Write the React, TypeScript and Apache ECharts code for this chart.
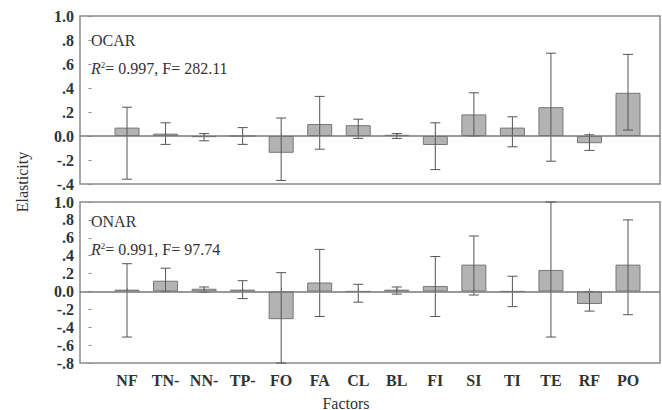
import React, { useEffect, useRef } from "react";
import * as echarts from "echarts";

const categories = ["NF", "TN‐", "NN‐", "TP‐", "FO", "FA", "CL", "BL", "FI", "SI", "TI", "TE", "RF", "PO"];

// OCAR panel
const ocarValues = [0.07, 0.02, -0.01, 0.0, -0.14, 0.1, 0.09, 0.01, -0.075, 0.18, 0.07, 0.24, -0.06, 0.36];
const ocarLow = [-0.36, -0.07, -0.04, -0.07, -0.37, -0.11, -0.02, -0.02, -0.28, 0.0, -0.09, -0.21, -0.12, 0.05];
const ocarHigh = [0.24, 0.11, 0.02, 0.07, 0.15, 0.33, 0.14, 0.02, 0.11, 0.36, 0.16, 0.69, 0.01, 0.68];

// ONAR panel
const onarValues = [0.02, 0.12, 0.03, 0.02, -0.31, 0.1, 0.0, 0.02, 0.06, 0.3, 0.0, 0.24, -0.14, 0.3];
const onarLow = [-0.51, 0.0, -0.01, -0.08, -0.8, -0.28, -0.12, -0.03, -0.28, -0.04, -0.17, -0.51, -0.22, -0.26];
const onarHigh = [0.31, 0.26, 0.05, 0.12, 0.21, 0.47, 0.08, 0.05, 0.39, 0.62, 0.17, 1.0, 0.0, 0.8];

const ocarStats = { name: "OCAR", r2: "0.997", f: "282.11" };
const onarStats = { name: "ONAR", r2: "0.991", f: "97.74" };

const FONT = "Liberation Serif, Times New Roman, serif";
const TEXT = "#333";
const FRAME = "#8a8a8a";

const positions = categories.map((_, i) => i + 1);

function fmtY(v: number): string {
  const r = Math.round(v * 10) / 10;
  if (r === 0) return "0.0";
  if (r === 1) return "1.0";
  const s = Math.abs(r).toFixed(1).replace(/^0/, "");
  return (r < 0 ? "-" : "") + s;
}

function errRender(params: any, api: any) {
  const x = api.value(0);
  const lo = api.coord([x, api.value(1)]);
  const hi = api.coord([x, api.value(2)]);
  const cap = 5;
  const style = { stroke: "#555", lineWidth: 1 };
  return {
    type: "group",
    children: [
      { type: "line", shape: { x1: lo[0], y1: lo[1], x2: hi[0], y2: hi[1] }, style },
      { type: "line", shape: { x1: hi[0] - cap, y1: hi[1], x2: hi[0] + cap, y2: hi[1] }, style },
      { type: "line", shape: { x1: lo[0] - cap, y1: lo[1], x2: lo[0] + cap, y2: lo[1] }, style },
    ],
  };
}

export default function App() {
  const ref = useRef<HTMLDivElement>(null);
  useEffect(() => {
    if (!ref.current) return;
    const chart = echarts.init(ref.current, null, { renderer: "svg" });
    const xAxisBase = (gridIndex: number, showLabels: boolean) => ({
      type: "value",
      gridIndex,
      min: -0.22,
      max: 14.83,
      axisLine: { show: false },
      splitLine: { show: false },
      axisTick: {
        show: true,
        inside: true,
        length: 3,
        customValues: positions,
        lineStyle: { color: FRAME },
      },
      axisLabel: {
        show: showLabels,
        customValues: positions,
        formatter: (v: number) => categories[Math.round(v) - 1] ?? "",
        fontFamily: FONT,
        fontSize: 16,
        fontWeight: "bold",
        color: TEXT,
        margin: 9,
      },
    });
    const yAxisBase = (gridIndex: number, min: number) => ({
      type: "value",
      gridIndex,
      min,
      max: 1.0,
      interval: 0.2,
      axisLine: { show: false },
      splitLine: { show: false },
      axisTick: { show: true, inside: true, length: 3, lineStyle: { color: FRAME } },
      axisLabel: {
        formatter: fmtY,
        fontFamily: FONT,
        fontSize: 16,
        fontWeight: "bold",
        color: TEXT,
        margin: 6,
      },
    });
    const zeroLine = {
      silent: true,
      symbol: "none",
      label: { show: false },
      lineStyle: { color: "#777", type: "solid", width: 1.5 },
      data: [{ yAxis: 0 }],
    };
    const barSeries = (idx: number, values: number[]) => ({
      type: "bar",
      xAxisIndex: idx,
      yAxisIndex: idx,
      barWidth: 25,
      data: values.map((v, i) => [positions[i], v]),
      itemStyle: { color: "#b3b3b3", borderColor: "#777", borderWidth: 1 },
      markLine: zeroLine,
      z: 2,
    });
    const errSeries = (idx: number, lo: number[], hi: number[]) => ({
      type: "custom",
      xAxisIndex: idx,
      yAxisIndex: idx,
      renderItem: errRender,
      encode: { x: 0, y: [1, 2] },
      data: lo.map((l, i) => [positions[i], l, hi[i]]),
      z: 3,
    });
    const statText = (y: number, s: { name: string; r2: string; f: string }) => [
      {
        type: "text",
        left: 91,
        top: y,
        style: { text: s.name, fontFamily: FONT, fontSize: 16, fill: TEXT },
      },
      {
        type: "text",
        left: 91,
        top: y + 28,
        style: {
          text: `{i|R}{s|2}{n|= ${s.r2}, F= ${s.f}}`,
          fill: TEXT,
          rich: {
            i: { fontFamily: FONT, fontSize: 16, fontStyle: "italic", fill: TEXT },
            s: { fontFamily: FONT, fontSize: 9, fill: TEXT, verticalAlign: "top", padding: [0, 0, 8, 0] },
            n: { fontFamily: FONT, fontSize: 16, fill: TEXT },
          },
        },
      },
    ];
    chart.setOption({
      animation: false,
      backgroundColor: "#fff",
      grid: [
        { left: 80, right: 2, top: 16, height: 168, show: true, borderColor: FRAME, borderWidth: 1.5, backgroundColor: "transparent" },
        { left: 80, right: 2, top: 202, height: 161, show: true, borderColor: FRAME, borderWidth: 1.5, backgroundColor: "transparent" },
      ],
      xAxis: [xAxisBase(0, false), xAxisBase(1, true)],
      yAxis: [yAxisBase(0, -0.4), yAxisBase(1, -0.8)],
      series: [
        barSeries(0, ocarValues),
        errSeries(0, ocarLow, ocarHigh),
        barSeries(1, onarValues),
        errSeries(1, onarLow, onarHigh),
      ],
      graphic: [
        ...statText(32, ocarStats),
        ...statText(213, onarStats),
        {
          type: "text",
          x: 22,
          y: 182,
          rotation: Math.PI / 2,
          style: { text: "Elasticity", fontFamily: FONT, fontSize: 16, fill: TEXT, align: "center", verticalAlign: "middle" },
        },
        {
          type: "text",
          x: 346,
          y: 403,
          style: { text: "Factors", fontFamily: FONT, fontSize: 16, fill: TEXT, align: "center", verticalAlign: "middle" },
        },
      ],
    });
    return () => chart.dispose();
  }, []);
  return (
    <div
      ref={ref}
      style={{ position: "fixed", left: 0, top: 0, width: 662, height: 410, background: "#fff" }}
    />
  );
}
